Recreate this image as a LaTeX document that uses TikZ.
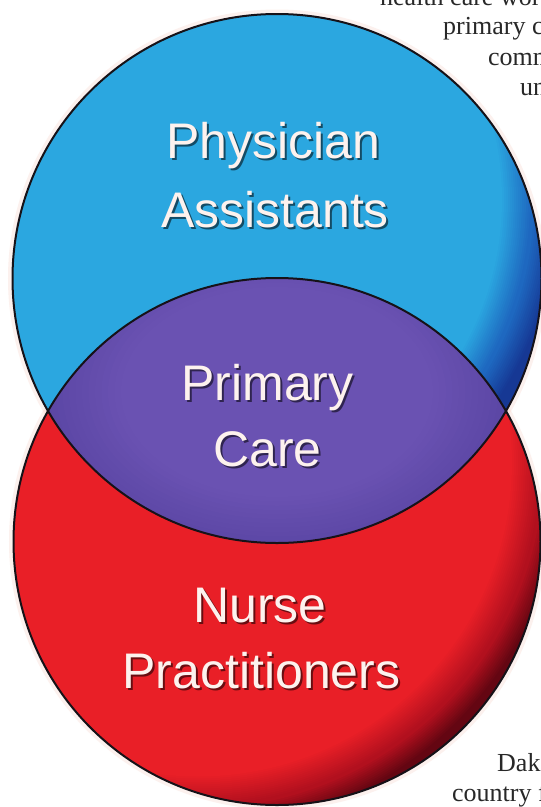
\documentclass[tikz,border=0pt]{standalone}
\usepackage{fontspec}
\setmainfont{Liberation Serif}
\newfontfamily\labelfont{Liberation Sans}
\usetikzlibrary{calc}

\definecolor{blueA}{RGB}{43,167,224}
\definecolor{blueM}{RGB}{30,104,192}
\definecolor{blueB}{RGB}{22,56,148}
\definecolor{redA}{RGB}{233,31,39}
\definecolor{redM}{RGB}{178,16,30}
\definecolor{redB}{RGB}{100,6,18}
\definecolor{purpA}{RGB}{106,82,178}
\definecolor{purpB}{RGB}{86,66,160}
\definecolor{labelwhite}{RGB}{253,242,238}
\definecolor{halo}{RGB}{246,200,188}
\definecolor{bodytext}{RGB}{40,40,40}
\definecolor{rim}{RGB}{22,18,24}

% label text with a soft drop shadow beneath it
\newcommand\embossed[1]{%
  \makebox[0pt][l]{\hspace{2pt}\raisebox{-2pt}{%
    \pgfsetfillopacity{0.55}\color{black}#1\pgfsetfillopacity{1}}}#1}

\tikzset{
  lbl/.style={font=\labelfont\fontsize{50}{60}\selectfont, text=labelwhite,
              anchor=base, inner sep=0pt},
  body/.style={font=\fontsize{26}{30}\selectfont, text=bodytext,
               anchor=base west, inner sep=0pt},
  rimline/.style={draw=rim, line width=2pt},
  glow/.style={draw=halo, line width=9pt, opacity=0.25}
}

\begin{document}
\begin{tikzpicture}[x=1pt,y=-1pt]
\useasboundingbox (0,0) rectangle (541,807);
\clip (0,0) rectangle (541,807);
\fill[white] (0,0) rectangle (541,807);

% circle centres and the upper-left light points of their shading
\coordinate (pa) at (277,278.5);
\coordinate (np) at (277,541.5);
\coordinate (paLight) at (198,199.5);
\coordinate (npLight) at (198,462.5);
\coordinate (lensMid) at (277,392);
\def\rPA{264.5pt}
\def\rNP{263.5pt}

% surrounding page text
\node[body] (t1) at (380,5)   {health care workers};
\node[body] (t2) at (443,34)  {primary care};
\node[body] (t3) at (488,65)  {community};
\node[body] (t4) at (520,95)  {underserved};
\node[body] (t5) at (497,771) {Dakota};
\node[body] (t6) at (452,801) {country for};

% soft halo around both discs
\draw[glow] (pa) circle[radius=\rPA];
\draw[glow] (np) circle[radius=\rNP];

% upper disc: dark rim fading in towards the lit upper left
\begin{scope}
  \clip (pa) circle[radius=\rPA];
  \fill[blueB] (pa) circle[radius=\rPA];
  \foreach \k [evaluate=\k as \r using 362-2*\k,
               evaluate=\k as \p using int(100*\k/13)] in {0,...,13}
    \fill[blueM!\p!blueB] (paLight) circle[radius=\r pt];
  \foreach \k [evaluate=\k as \r using 334-2*\k,
               evaluate=\k as \p using int(100*\k/15)] in {0,...,15}
    \fill[blueA!\p!blueM] (paLight) circle[radius=\r pt];
\end{scope}

% lower disc
\begin{scope}
  \clip (np) circle[radius=\rNP];
  \fill[redB] (np) circle[radius=\rNP];
  \foreach \k [evaluate=\k as \r using 368-2*\k,
               evaluate=\k as \p using int(100*\k/11)] in {0,...,11}
    \fill[redM!\p!redB] (npLight) circle[radius=\r pt];
  \foreach \k [evaluate=\k as \r using 344-2*\k,
               evaluate=\k as \p using int(100*\k/15)] in {0,...,15}
    \fill[redA!\p!redM] (npLight) circle[radius=\r pt];
\end{scope}

% overlap, slightly lighter in the middle
\begin{scope}
  \clip (pa) circle[radius=\rPA];
  \clip (np) circle[radius=\rNP];
  \fill[purpB] (lensMid) ellipse[x radius=280pt, y radius=190pt];
  \foreach \k [evaluate=\k as \s using 1-0.025*\k,
               evaluate=\k as \p using int(100*\k/16)] in {0,...,16}
    \fill[purpA!\p!purpB] (lensMid) ellipse[x radius=\s*260pt, y radius=\s*175pt];
\end{scope}

% outlines
\draw[rimline] (pa) circle[radius=\rPA];
\draw[rimline] (np) circle[radius=\rNP];

% labels
\node[lbl] (phys) at (273.5,158) {\embossed{Physician}};
\node[lbl] (assi) at (275,227)   {\embossed{Assistants}};
\node[lbl] (prim) at (267.5,400) {\embossed{Primary}};
\node[lbl] (care) at (267.5,466) {\embossed{Care}};
\node[lbl] (nurs) at (260,622)   {\embossed{Nurse}};
\node[lbl] (prac) at (261.5,688) {\embossed{Practitioners}};
\end{tikzpicture}
\end{document}
